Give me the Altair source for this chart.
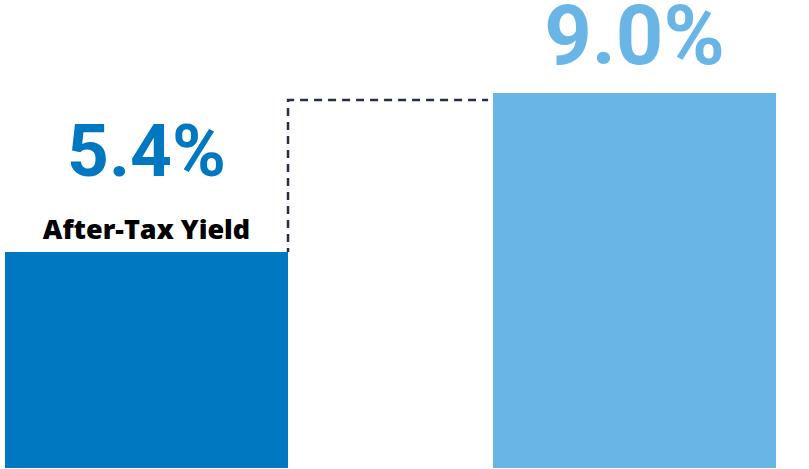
import altair as alt
import pandas as pd

# ---- data ----
categories = ["After-Tax Yield", "Taxable-Equivalent Yield"]
positions = [0, 1]
values = [5.4, 9.0]
value_labels = ["5.4%", "9.0%"]
bar_colors = ["#0077C1", "#69B5E5"]
connector_level = 8.84  # level of the dashed connector line

BAR_HALF = 0.29
X_DOMAIN = [-0.3002, 1.3576]
Y_DOMAIN = [0.5094, 11.1057]

df = pd.DataFrame({
    "category": categories,
    "pos": positions,
    "value": values,
    "label": value_labels,
    "color": bar_colors,
})

xs = alt.Scale(domain=X_DOMAIN, nice=False, zero=False)
ys = alt.Scale(domain=Y_DOMAIN, nice=False, zero=False)

base = alt.Chart(df)

bars = base.transform_calculate(
    x1=f"datum.pos - {BAR_HALF}", x2=f"datum.pos + {BAR_HALF}"
).mark_bar(clip=True).encode(
    x=alt.X("x1:Q", scale=xs, axis=None),
    x2="x2:Q",
    y=alt.Y("value:Q", scale=ys, axis=None),
    y2=alt.datum(0),
    color=alt.Color("color:N", scale=None),
)

conn_df = pd.DataFrame({
    "px": [positions[0] + BAR_HALF, positions[0] + BAR_HALF, positions[1] - BAR_HALF - 0.01],
    "py": [values[0], connector_level, connector_level],
    "o": [0, 1, 2],
})
connector = alt.Chart(conn_df).mark_line(
    color="#262D4C", strokeWidth=2.5, strokeDash=[8, 6], strokeDashOffset=4
).encode(
    x=alt.X("px:Q", scale=xs, axis=None),
    y=alt.Y("py:Q", scale=ys, axis=None),
    order="o:O",
)

left_val = base.transform_filter("datum.pos == 0").mark_text(
    font="Roboto", fontWeight="bold", fontSize=73, baseline="alphabetic",
    align="center", dy=-76, color=bar_colors[0]
).encode(
    x=alt.X("pos:Q", scale=xs, axis=None),
    y=alt.Y("value:Q", scale=ys, axis=None),
    text="label:N",
)

right_val = base.transform_filter("datum.pos == 1").mark_text(
    font="Roboto", fontWeight="bold", fontSize=83, baseline="alphabetic",
    align="center", dy=-29, color=bar_colors[1]
).encode(
    x=alt.X("pos:Q", scale=xs, axis=None),
    y=alt.Y("value:Q", scale=ys, axis=None),
    text="label:N",
)

cat_label = base.transform_filter("datum.pos == 0").mark_text(
    font="Open Sans", fontWeight=800, fontSize=27, baseline="alphabetic",
    align="center", dy=-13, color="#000000"
).encode(
    x=alt.X("pos:Q", scale=xs, axis=None),
    y=alt.Y("value:Q", scale=ys, axis=None),
    text="category:N",
)

chart = alt.layer(bars, connector, left_val, right_val, cat_label).properties(
    width=809, height=468, padding=0,
    autosize=alt.AutoSizeParams(type="none"),
    background="white",
).configure_view(stroke=None)

chart.save("out.html", embed_options={"renderer": "svg", "actions": False})
